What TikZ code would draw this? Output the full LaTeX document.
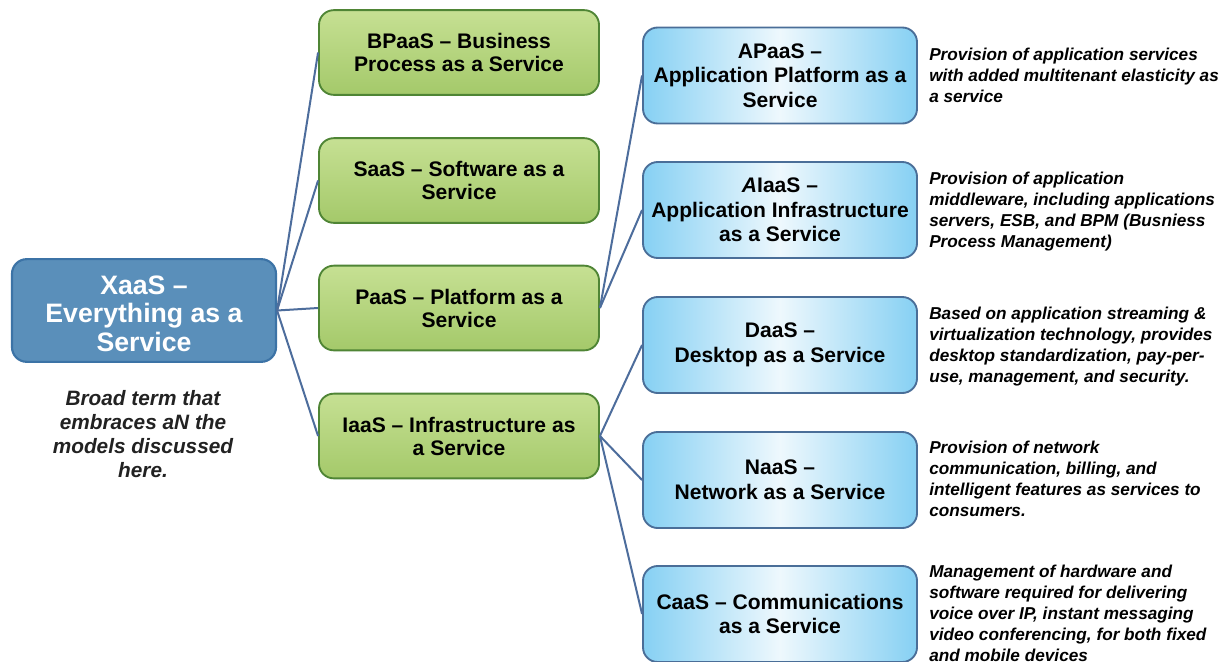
\documentclass[tikz,border=0pt]{standalone}
\usepackage{fontspec}
\setmainfont{Liberation Sans}
\usetikzlibrary{positioning}
\definecolor{xfill}{HTML}{5A8FBA}
\definecolor{xdraw}{HTML}{3C73A6}
\definecolor{gtop}{HTML}{C6E093}
\definecolor{gbot}{HTML}{A4C96A}
\definecolor{gdraw}{HTML}{4F8535}
\definecolor{bside}{HTML}{86D0F3}
\definecolor{bmid}{HTML}{EEF8FD}
\definecolor{bdraw}{HTML}{4A6E98}
\definecolor{conn}{HTML}{4D6D9C}
\definecolor{txt}{HTML}{222222}
\tikzset{
  xbox/.style={draw=xdraw, line width=1.6pt, fill=xfill, rounded corners=11pt,
    minimum width=198pt, minimum height=77pt, align=center, text=white,
    font=\bfseries\fontsize{20}{21.4}\selectfont},
  gbox/.style={draw=gdraw, line width=1.4pt, top color=gtop, bottom color=gbot, rounded corners=11pt,
    minimum width=210pt, minimum height=63.5pt, align=center, text=black,
    font=\bfseries\fontsize{15.8}{17.3}\selectfont},
  bbox/.style={draw=bdraw, line width=1.4pt, left color=bside, right color=bside, middle color=bmid, rounded corners=11pt,
    minimum width=205.5pt, minimum height=72pt, align=center, text=black,
    font=\bfseries\fontsize{15.8}{18.4}\selectfont},
  desc/.style={anchor=north west, inner sep=0pt, align=left, text=black,
    font=\bfseries\itshape\fontsize{12.9}{15.7}\selectfont},
  cline/.style={draw=conn, line width=1.5pt}
}
\begin{document}
\begin{tikzpicture}[x=0.75pt,y=-0.75pt]
\useasboundingbox (0,0) rectangle (1228,661);
\fill[white] (0,0) rectangle (1228,661);
% root
\node[xbox] (xaas) at (144,310.5) {\raisebox{-2.3pt}[\height][\depth]{\parbox{190pt}{\centering XaaS --\\Everything as a\\Service}}};
\node[inner sep=0pt, align=center, text=txt, font=\bfseries\itshape\fontsize{15.6}{18}\selectfont] (broad) at (143,434)
  {Broad term that\\embraces aN the\\models discussed\\here.};
% green
\node[gbox] (bpaas) at (459,52.5) {BPaaS -- Business\\Process as a Service};
\node[gbox] (saas) at (459,180.5) {SaaS -- Software as a\\Service};
\node[gbox] (paas) at (459,308) {PaaS -- Platform as a\\Service};
\node[gbox] (iaas) at (459,436) {IaaS -- Infrastructure as\\a Service};
% blue
\node[bbox] (apaas) at (780,75.5) {APaaS --\\Application Platform as a\\Service};
\node[bbox] (aiaas) at (780,210) {\textit{A}IaaS --\\Application Infrastructure\\as a Service};
\node[bbox] (daas) at (780,345) {DaaS --\\Desktop as a Service};
\node[bbox] (naas) at (780,480) {NaaS --\\Network as a Service};
\node[bbox] (caas) at (780,614) {CaaS -- Communications\\as a Service};
% connectors
\draw[cline] (xaas.east) -- (bpaas.west);
\draw[cline] (xaas.east) -- (saas.west);
\draw[cline] (xaas.east) -- (paas.west);
\draw[cline] (xaas.east) -- (iaas.west);
\draw[cline] (paas.east) -- (apaas.west);
\draw[cline] (paas.east) -- (aiaas.west);
\draw[cline] (iaas.east) -- (daas.west);
\draw[cline] (iaas.east) -- (naas.west);
\draw[cline] (iaas.east) -- (caas.west);
% descriptions
\node[desc] (d1) at (929,48) {Provision of application services\\with added multitenant elasticity as\\a service};
\node[desc] (d2) at (929,172) {Provision of application\\middleware, including applications\\servers, ESB, and BPM (Busniess\\Process Management)};
\node[desc] (d3) at (929,307) {Based on application streaming \&\\virtualization technology, provides\\desktop standardization, pay-per-\\use, management, and security.};
\node[desc] (d4) at (929,441) {Provision of network\\communication, billing, and\\intelligent features as services to\\consumers.};
\node[desc] (d5) at (929,565) {Management of hardware and\\software required for delivering\\voice over IP, instant messaging\\video conferencing, for both fixed\\and mobile devices};
\end{tikzpicture}
\end{document}
